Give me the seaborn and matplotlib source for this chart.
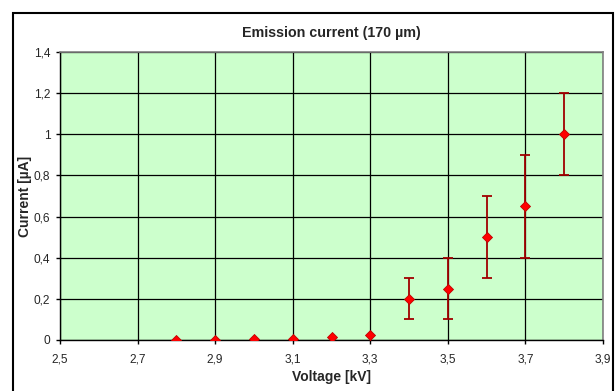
import numpy as np
import pandas as pd
import seaborn as sns
import matplotlib.pyplot as plt
from matplotlib.ticker import FuncFormatter
from matplotlib.patches import Rectangle

# data
voltage = [2.8, 2.9, 3.0, 3.1, 3.2, 3.3, 3.4, 3.5, 3.6, 3.7, 3.8]
current = [0.0, 0.0, 0.003, 0.004, 0.013, 0.025, 0.2, 0.25, 0.5, 0.65, 1.0]
error = [0, 0, 0, 0, 0, 0, 0.1, 0.15, 0.2, 0.25, 0.2]
x_ticks = [2.5, 2.7, 2.9, 3.1, 3.3, 3.5, 3.7, 3.9]
y_ticks = [0, 0.2, 0.4, 0.6, 0.8, 1.0, 1.2, 1.4]

df = pd.DataFrame({"voltage": voltage, "current": current, "error": error})

sns.set_style("white")
plt.rcParams["font.family"] = ["Liberation Sans", "DejaVu Sans"]

fig = plt.figure(figsize=(6.15, 3.91), dpi=100)
ax = fig.add_axes([60 / 615, 1 - 340 / 391, 543 / 615, 288 / 391])
ax.set_facecolor("#CCFFCC")

# error bars only where there is an error
err = df[df["error"] > 0]
ax.errorbar(err["voltage"], err["current"], yerr=err["error"], fmt="none",
            ecolor="#A00000", elinewidth=1.3, capsize=3.5, capthick=1.3, zorder=3)

sns.scatterplot(data=df, x="voltage", y="current", ax=ax, marker="D", s=26,
                color="#FF0000", edgecolor="#C00000", linewidth=0.6, zorder=4)

ax.set_xlim(2.5, 3.9)
ax.set_ylim(0, 1.4)
ax.set_xticks(x_ticks)
ax.set_yticks(y_ticks)
fmt = FuncFormatter(lambda v, p: f"{round(v, 2):g}".replace(".", ","))
ax.xaxis.set_major_formatter(fmt)
ax.yaxis.set_major_formatter(fmt)

ax.grid(True, color="black", linewidth=0.9)
ax.set_axisbelow(True)
ax.tick_params(axis="both", direction="out", length=3, width=1, color="black",
               labelsize=8.6, bottom=True, left=True)
ax.tick_params(axis="x", pad=7)
ax.tick_params(axis="y", pad=4)

for side in ["top", "right"]:
    ax.spines[side].set_color("#808080")
    ax.spines[side].set_linewidth(1.2)
for side in ["left", "bottom"]:
    ax.spines[side].set_color("black")
    ax.spines[side].set_linewidth(1)

ax.set_title("Emission current (170 µm)", fontsize=10.3, fontweight="bold", pad=11)
ax.set_xlabel("Voltage [kV]", fontsize=10, fontweight="bold", labelpad=3)
ax.set_ylabel("Current [µA]", fontsize=10, fontweight="bold")
ax.yaxis.set_label_coords(-0.052, 0.5)

# outer chart border
fig.patches.append(Rectangle((13 / 615, -0.05), 600 / 615, 1 - 13 / 391 + 0.05,
                             transform=fig.transFigure, fill=False,
                             edgecolor="black", linewidth=1.5))

fig.savefig("out.png", dpi=100)
